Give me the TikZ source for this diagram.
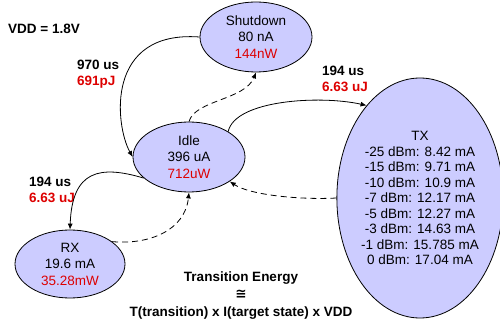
\documentclass[tikz,border=0pt]{standalone}
\usepackage{fontspec}
\setmainfont{Liberation Sans}
\newfontfamily\symfont{DejaVu Sans}
\usetikzlibrary{shapes.geometric,arrows.meta}
\definecolor{lav}{RGB}{204,204,255}
\definecolor{myred}{RGB}{221,0,0}
\begin{document}
\begin{tikzpicture}[x=1pt,y=-1pt,
 state/.style={ellipse,draw=black,line width=0.8pt,fill=lav,inner sep=0pt,align=center,font=\fontsize{13.5}{16.5}\selectfont},
 lbl/.style={font=\fontsize{13.5}{16}\selectfont\bfseries,align=left,anchor=west,inner sep=0pt},
 conn/.style={line width=0.8pt,-{Latex[length=6pt,width=5pt]}},
 dsh/.style={conn,dash pattern=on 6pt off 4pt}]
\useasboundingbox (0,0) rectangle (500,320);
\node[state,minimum width=112pt,minimum height=70pt] (sd) at (256,37) {Shutdown\\80 nA\\\textcolor{myred}{144nW}};
\node[state,minimum width=112pt,minimum height=70pt] (idle) at (189,157) {Idle\\396 uA\\\textcolor{myred}{712uW}};
\node[state,minimum width=110pt,minimum height=68pt] (rx) at (70,264) {RX\\19.6 mA\\\textcolor{myred}{35.28mW}};
\node[state,minimum width=140pt,minimum height=240pt,font=\fontsize{13.5}{15.5}\selectfont] (tx) at (420,198) {TX\\-25 dBm: 8.42 mA\\-15 dBm: 9.71 mA\\-10 dBm: 10.9 mA\\-7 dBm: 12.17 mA\\-5 dBm: 12.27 mA\\-3 dBm: 14.63 mA\\-1 dBm: 15.785 mA\\0 dBm: 17.04 mA};
\node[lbl] (vdd) at (8,29) {VDD = 1.8V};
\node[lbl] (l1) at (77,74) {970 us\\\textcolor{myred}{691pJ}};
\node[lbl] (l2) at (322,79) {194 us\\\textcolor{myred}{6.63 uJ}};
\node[lbl] (l3) at (29,189.5) {194 us\\\textcolor{myred}{6.63 uJ}};
\node[font=\fontsize{13.5}{17.5}\selectfont\bfseries,align=center,inner sep=0pt] (te) at (241,295.5) {Transition Energy\\{\symfont\bfseries ≅}\\T(transition) x I(target state) x VDD};
\draw[conn] (sd.180) .. controls (105,30) and (115,125) .. (idle.180);
\draw[dsh] (idle.north) .. controls (195,100) and (245,100) .. (sd.south);
\draw[conn] (idle.33) .. controls (235,100) and (320,95) .. (tx.120);
\draw[dsh] (tx.180) .. controls (300,200) and (250,195) .. (idle.-31);
\draw[conn] (idle.205) .. controls (100,165) and (72,170) .. (rx.north);
\draw[dsh] (rx.28) .. controls (150,245) and (185,230) .. (idle.south);
\end{tikzpicture}
\end{document}
